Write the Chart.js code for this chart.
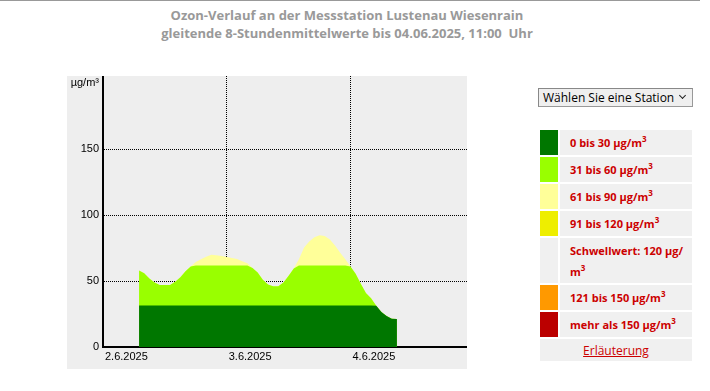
<!DOCTYPE html>
<html>
<head>
<meta charset="utf-8">
<script src="https://cdn.jsdelivr.net/npm/chart.js@4.4.0/dist/chart.umd.min.js"></script>
<style>
  body { margin: 0; background: #fff; font-family: "Open Sans", sans-serif; }
  #topline { position: absolute; left: 0; top: 0; width: 700px; height: 1px; background: #999; }
  #title { position: absolute; left: 0; top: 6px; width: 694px; text-align: center;
           font-weight: bold; font-size: 13px; line-height: 18px; color: #999; }
  #chartBox { position: absolute; left: 67px; top: 76px; width: 400px; height: 293px; background: #eeeeee; }
  #station { position: absolute; left: 538px; top: 88px; width: 153px; height: 17px;
             font-size: 12px; line-height: 17px; background: #efefef; color: #000;
             border: 1px solid #999; border-top-color: #888; border-left-color: #888; }
  #station span.txt { position: absolute; left: 4px; top: 0; white-space: nowrap; }
  #station span.chev { position: absolute; left: 141px; top: 4px; width: 4px; height: 4px;
                       border-right: 1px solid #222; border-bottom: 1px solid #222; transform: rotate(45deg); }
  #legend { position: absolute; left: 538px; top: 128px; border-spacing: 2px; }
  #legend td { padding: 0; height: 25px; }
  #legend td.sw { width: 18px; }
  #legend td.lb { width: 122px; background: #f0f0f0; padding-left: 10px; font-weight: bold;
                  font-size: 11px; color: #cc0000; line-height: 21px; }
  #legend sup { font-size: 8px; line-height: 0; }
  #legend td.more { text-align: center; background: #f0f0f0; height: 22px; font-size: 12px; }
  #legend td.more a { color: #cc0000; }
</style>
</head>
<body>
<div id="topline"></div>
<div id="title">Ozon-Verlauf an der Messstation Lustenau Wiesenrain<br>gleitende 8-Stundenmittelwerte bis 04.06.2025, 11:00&nbsp; Uhr</div>
<div id="chartBox"><canvas id="ozon" width="400" height="293"></canvas></div>
<div id="station"><span class="txt">Wählen Sie eine Station</span><span class="chev"></span></div>
<table id="legend">
  <tr><td class="sw" style="background:#007700"></td><td class="lb">0 bis 30 µg/m<sup>3</sup></td></tr>
  <tr><td class="sw" style="background:#99ff00"></td><td class="lb">31 bis 60 µg/m<sup>3</sup></td></tr>
  <tr><td class="sw" style="background:#ffff99"></td><td class="lb">61 bis 90 µg/m<sup>3</sup></td></tr>
  <tr><td class="sw" style="background:#eeee00"></td><td class="lb">91 bis 120 µg/m<sup>3</sup></td></tr>
  <tr><td class="sw" style="background:#f0f0f0;height:45px"></td><td class="lb">Schwellwert: 120 µg/<wbr>m<sup>3</sup></td></tr>
  <tr><td class="sw" style="background:#ff9900"></td><td class="lb">121 bis 150 µg/m<sup>3</sup></td></tr>
  <tr><td class="sw" style="background:#bb0000"></td><td class="lb">mehr als 150 µg/m<sup>3</sup></td></tr>
  <tr><td class="more" colspan="2"><a href="#">Erläuterung</a></td></tr>
</table>

<script>
// hourly 8h means, first value at 2.6.2025 07:00 (hours counted from 2.6. 00:00)
const firstHour = 7;
const ozone = [
  58, 56, 52, 49, 47, 47, 47, 49.5, 53, 57.5,
  61, 64.5, 66.5, 68.5, 70, 69.7, 69, 68.3, 67.5, 66.7,
  65, 63.5, 60, 56.5, 51, 47.5, 46, 46, 49, 54,
  59.5, 66.5, 75.5, 80, 83.3, 84.7, 84.3, 81.5, 77, 71.5,
  66.5, 61, 55.5, 48, 41, 37, 31.3, 26.5, 23.5, 21.5,
  21.3
];
const dayTicks = [0, 24, 48];
const dayLabels = ['2.6.2025', '3.6.2025', '4.6.2025'];
const yTicks = [0, 50, 100, 150, 200];
const unitLabel = 'µg/m³';

// colour classes, drawn as bands cut at the class limits
const bandLimits = [31.4, 61.9, 91];
const bandColors = ['#007700', '#99ff00', '#ffff99'];

const points = ozone.map((v, i) => ({ x: firstHour + i, v: v }));
const datasets = bandLimits.map((lim, k) => ({
  data: points.map(p => ({ x: p.x, y: Math.min(p.v, lim) })),
  backgroundColor: bandColors[k],
  borderWidth: 0,
  pointRadius: 0,
  tension: 0,
  fill: 'origin',
  order: k
}));

const tickFont = { family: 'Liberation Sans, Arial, sans-serif', size: 11 };

new Chart(document.getElementById('ozon'), {
  type: 'line',
  data: { datasets: datasets },
  options: {
    responsive: false,
    animation: false,
    layout: { padding: 0 },
    plugins: { legend: { display: false }, tooltip: { enabled: false } },
    scales: {
      x: {
        type: 'linear',
        min: 0,
        max: 70.6,
        afterBuildTicks: s => { s.ticks = dayTicks.map(v => ({ value: v })); },
        afterFit: s => { s.height = 22; s.paddingLeft = 0; s.paddingRight = 0; },
        ticks: {
          autoSkip: false, maxRotation: 0, align: 'start', labelOffset: 2, padding: 3,
          color: '#000', font: tickFont,
          callback: v => dayLabels[dayTicks.indexOf(v)]
        },
        grid: { color: '#000', lineWidth: 1, drawTicks: false },
        border: { color: '#000', width: 2, dash: [1, 1] }
      },
      y: {
        min: 0,
        max: 205.6,
        afterBuildTicks: s => { s.ticks = yTicks.map(v => ({ value: v })); },
        afterFit: s => { s.width = 36; s.paddingTop = 0; s.paddingBottom = 0; },
        ticks: {
          padding: 4, color: '#000', font: tickFont,
          callback: v => v === 200 ? unitLabel : v
        },
        grid: {
          color: c => c.tick && c.tick.value === 200 ? 'rgba(0,0,0,0)' : '#000',
          lineWidth: 1, drawTicks: false
        },
        border: { color: '#000', width: 2, dash: [1, 1] }
      }
    }
  }
});
</script>
</body>
</html>
